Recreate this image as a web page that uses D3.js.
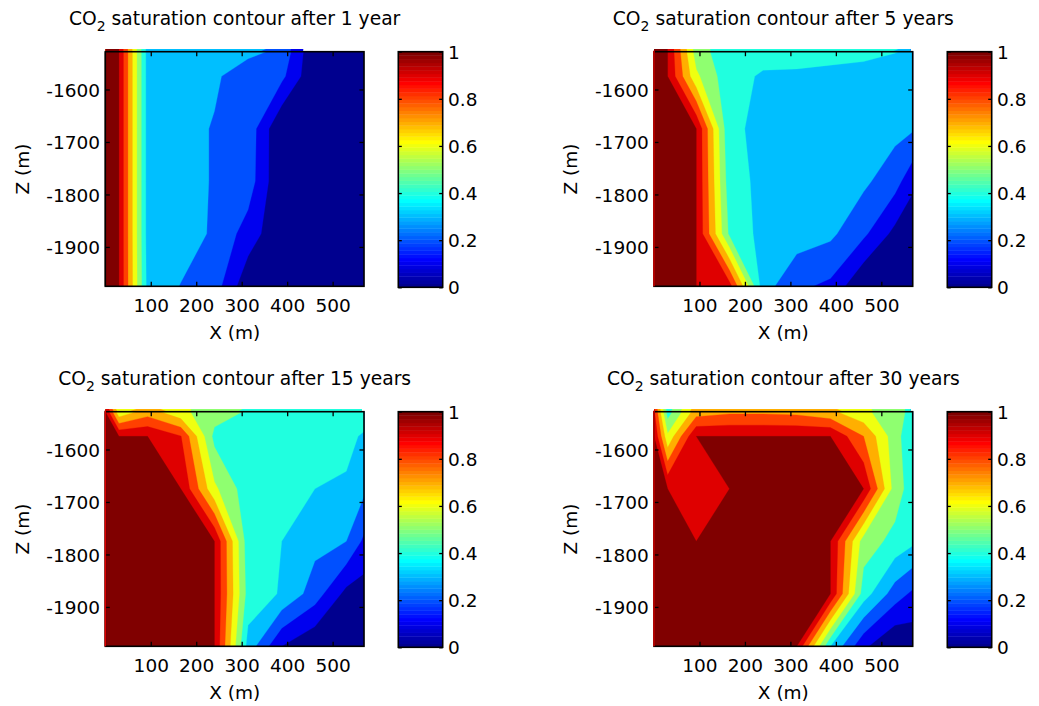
<!DOCTYPE html>
<html><head><meta charset="utf-8">
<script src="https://cdn.jsdelivr.net/npm/d3@7"></script>
<style>
html,body{margin:0;padding:0;background:#fff;}
svg{display:block;}
</style></head><body>
<svg id="chart" width="1039" height="706"></svg>
<script>
// ---------------- data ----------------
const xNodes = [0, 30, 93, 166, 240, 314, 388, 461, 530, 569];      // X (m) grid nodes
const zNodes = [-1528, -1575, -1675, -1775, -1875, -1975];          // Z (m) grid nodes
const levels = [0, 0.1, 0.2, 0.3, 0.4, 0.5, 0.6, 0.7, 0.8, 0.9, 1.0];
const xTicks = [100, 200, 300, 400, 500];
const zTicks = [-1600, -1700, -1800, -1900];
const cbTicks = [0, 0.2, 0.4, 0.6, 0.8, 1];
const years = [1, 5, 15, 30];

// CO2 saturation, rows = zNodes (top to bottom), columns = xNodes
const sat1yr = [
  [1, 1, 0.36, 0.35, 0.34, 0.33, 0.274, 0.007, 0, 0],
  [1, 1, 0.36, 0.35, 0.32, 0.225, 0.224, 0.01, 0, 0],
  [1, 1, 0.36, 0.35, 0.29, 0.264, 0.0, 0, 0, 0],
  [1, 1, 0.36, 0.35, 0.29, 0.253, 0.003, 0, 0, 0],
  [1, 1, 0.36, 0.35, 0.285, 0.155, 0.013, 0, 0, 0],
  [1, 1, 0.37, 0.296, 0.247, 0.026, 0, 0, 0, 0]
];
const sat5yr = [
  [1, 1, 0.55, 0.43, 0.43, 0.43, 0.43, 0.42, 0.405, 0.38],
  [1, 1, 0.62, 0.43, 0.39, 0.387, 0.375, 0.37, 0.32, 0.33],
  [1, 1, 1, 0.41, 0.388, 0.38, 0.37, 0.35, 0.33, 0.31],
  [1, 1, 1, 0.44, 0.375, 0.36, 0.34, 0.32, 0.24, 0.13],
  [1, 1, 1, 0.48, 0.366, 0.35, 0.32, 0.22, 0.07, 0.0],
  [1, 1, 1, 0.94, 0.343, 0.22, 0.179, 0.0, 0.0, 0.0]
];
const sat15yr = [
  [1, 0.62, 0.75, 0.62, 0.55, 0.49, 0.45, 0.45, 0.44, 0.44],
  [1, 1, 1, 0.905, 0.47, 0.44, 0.44, 0.44, 0.42, 0.39],
  [1, 1, 1, 1, 0.62, 0.44, 0.43, 0.40, 0.39, 0.32],
  [1, 1, 1, 1, 1, 0.44, 0.40, 0.33, 0.30, 0.18],
  [1, 1, 1, 1, 1, 0.46, 0.39, 0.25, 0.07, 0.05],
  [1, 1, 1, 1, 1, 0.36, 0.10, 0.01, 0, 0]
];
const sat30yr = [
  [0.92, 0.45, 0.75, 0.78, 0.78, 0.77, 0.72, 0.62, 0.54, 0.47],
  [1, 0.62, 1, 1, 1, 1, 1, 0.80, 0.54, 0.42],
  [1, 1, 0.95, 1, 1, 1, 1, 1, 0.55, 0.45],
  [1, 1, 1, 1, 1, 1, 1, 0.55, 0.47, 0.42],
  [1, 1, 1, 1, 1, 1, 1, 0.45, 0.25, 0.18],
  [1, 1, 1, 1, 1, 1, 0.40, 0.12, 0.0, 0.03]
];
const panelsData = [sat1yr, sat5yr, sat15yr, sat30yr];

// ---------------- style / layout ----------------
const FONT = "'DejaVu Sans', sans-serif";
const W = 258.7, H = 234.6;
const cbW = 44.4, cbH = 235.6;
const layout = [
  {x: 105.3, y: 51.7, cbx: 398.3, leftEdge: false},
  {x: 654.0, y: 51.7, cbx: 947.3, leftEdge: true},
  {x: 105.3, y: 411.7, cbx: 398.3, leftEdge: true},
  {x: 654.0, y: 411.7, cbx: 947.3, leftEdge: true}
];

// MATLAB jet(64)
function jet64() {
  const n = 64, m = 16, u = [];
  for (let i = 1; i <= m; i++) u.push(i / m);
  for (let i = 0; i < m - 1; i++) u.push(1);
  for (let i = m; i >= 1; i--) u.push(i / m);
  const cmap = Array.from({length: n}, () => [0, 0, 0]);
  const off = Math.ceil(m / 2);
  u.forEach((val, k) => {
    const g = off + k + 1, r = g + m, b = g - m;
    if (g >= 1 && g <= n) cmap[g - 1][1] = val;
    if (r >= 1 && r <= n) cmap[r - 1][0] = val;
    if (b >= 1 && b <= n) cmap[b - 1][2] = val;
  });
  return cmap.map(c => d3.rgb(Math.round(c[0] * 255), Math.round(c[1] * 255), Math.round(c[2] * 255)).formatHex());
}
const cmap = jet64();
const bandColors = levels.map(L => cmap[Math.min(63, Math.floor(L * 64 + 1e-9))]);

const svg = d3.select("#chart");
const defs = svg.append("defs");
const geo = d3.geoPath();

function styleAxis(g) {
  g.attr("font-family", FONT).attr("font-size", 18.5);
  g.select(".domain").remove();
  g.selectAll(".tick line").attr("stroke", "#000").attr("stroke-width", 1.3);
  g.selectAll(".tick text").attr("fill", "#000");
}

panelsData.forEach((values, p) => {
  const L = layout[p];
  const g = svg.append("g");
  const xs = d3.scaleLinear().domain([0, 569]).range([L.x, L.x + W]);
  const zs = d3.scaleLinear().domain([-1528, -1975]).range([L.y, L.y + H]);
  const ix = d3.scaleLinear().domain(d3.range(xNodes.length)).range(xNodes).clamp(true);
  const iz = d3.scaleLinear().domain(d3.range(zNodes.length)).range(zNodes).clamp(true);

  const contours = d3.contours()
    .size([xNodes.length, zNodes.length])
    .thresholds(levels)(values.flat());

  const toPx = ([cx, cy]) => [xs(ix(cx - 0.5)), zs(iz(cy - 0.5))];
  const paths = contours.map(mp => geo({type: "MultiPolygon",
    coordinates: mp.coordinates.map(poly => poly.map(ring => ring.map(toPx)))}));

  paths.forEach((d, k) => {
    g.append("path").attr("d", d)
      .attr("fill", bandColors[k]).attr("fill-rule", "evenodd")
      .attr("stroke", bandColors[k]).attr("stroke-width", 0.3);
  });

  // thin strip of the filled contours showing just above the top frame line
  const clipId = "strip" + p;
  defs.append("clipPath").attr("id", clipId).append("rect")
    .attr("x", L.x).attr("y", L.y - 2.6).attr("width", W - 2).attr("height", 2);
  const strip = g.append("g").attr("clip-path", `url(#${clipId})`)
    .append("g").attr("transform", "translate(0,-2.6)");
  paths.forEach((d, k) => {
    if (k === 0) return;
    strip.append("path").attr("d", d).attr("fill", bandColors[k]);
  });

  // axes (ticks pointing inward)
  g.append("g").attr("transform", `translate(0,${L.y + H})`)
    .call(d3.axisBottom(xs).tickValues(xTicks).tickSize(-4.5).tickPadding(12.3).tickFormat(d => String(d)))
    .call(styleAxis);
  g.append("g").attr("transform", `translate(0,${L.y})`)
    .call(d3.axisTop(xs).tickValues(xTicks).tickSize(-4.5).tickFormat(""))
    .call(styleAxis);
  g.append("g").attr("transform", `translate(${L.x},0)`)
    .call(d3.axisLeft(zs).tickValues(zTicks).tickSize(-4.5).tickPadding(5.3).tickFormat(d => String(d)))
    .call(styleAxis)
    .selectAll(".tick text").attr("dy", "0.36em");
  g.append("g").attr("transform", `translate(${L.x + W},0)`)
    .call(d3.axisRight(zs).tickValues(zTicks).tickSize(-4.5).tickFormat(""))
    .call(styleAxis);

  g.append("rect").attr("x", L.x).attr("y", L.y).attr("width", W).attr("height", H)
    .attr("fill", "none").attr("stroke", "#000").attr("stroke-width", 1.6);

  // fill edge visible over the left frame line
  if (L.leftEdge) {
    g.append("line").attr("x1", xs(0)).attr("x2", xs(0))
      .attr("y1", zs(-1528) - 1).attr("y2", zs(-1975))
      .attr("stroke", bandColors[9]).attr("stroke-width", 1.5);
  }

  // title
  const t = g.append("text").attr("x", L.x + W / 2).attr("y", L.y - 26.5)
    .attr("text-anchor", "middle").attr("font-family", FONT).attr("font-size", 18.7).attr("fill", "#000");
  t.append("tspan").text("CO");
  t.append("tspan").attr("font-size", 14).attr("dy", 6).text("2");
  t.append("tspan").attr("dy", -6).text(` saturation contour after ${years[p]} ${years[p] === 1 ? "year" : "years"}`);

  // axis labels
  g.append("text").attr("x", L.x + W / 2).attr("y", L.y + H + 52.7)
    .attr("text-anchor", "middle").attr("font-family", FONT).attr("font-size", 18.5).text("X (m)");
  g.append("text").attr("transform", `translate(${L.x - 76.8},${L.y + H / 2}) rotate(-90)`)
    .attr("text-anchor", "middle").attr("font-family", FONT).attr("font-size", 18.5).text("Z (m)");

  // colorbar
  const cs = d3.scaleLinear().domain([0, 1]).range([L.y + cbH, L.y]);
  const cb = g.append("g");
  cb.selectAll("rect.c").data(d3.range(64)).join("rect")
    .attr("x", L.cbx).attr("width", cbW)
    .attr("y", i => cs((i + 1) / 64)).attr("height", i => cs(i / 64) - cs((i + 1) / 64) + 0.4)
    .attr("fill", i => cmap[i]);
  cb.append("g").attr("transform", `translate(${L.cbx + cbW},0)`)
    .call(d3.axisRight(cs).tickValues(cbTicks).tickSize(-3.5).tickPadding(5.3).tickFormat(d => String(d)))
    .call(styleAxis)
    .selectAll(".tick text").attr("dy", "0.36em");
  cb.append("g").attr("transform", `translate(${L.cbx},0)`)
    .call(d3.axisLeft(cs).tickValues(cbTicks).tickSize(-3.5).tickFormat(""))
    .call(styleAxis);
  cb.append("rect").attr("x", L.cbx).attr("y", L.y).attr("width", cbW).attr("height", cbH)
    .attr("fill", "none").attr("stroke", "#000").attr("stroke-width", 1.6);
});
</script>
</body></html>
